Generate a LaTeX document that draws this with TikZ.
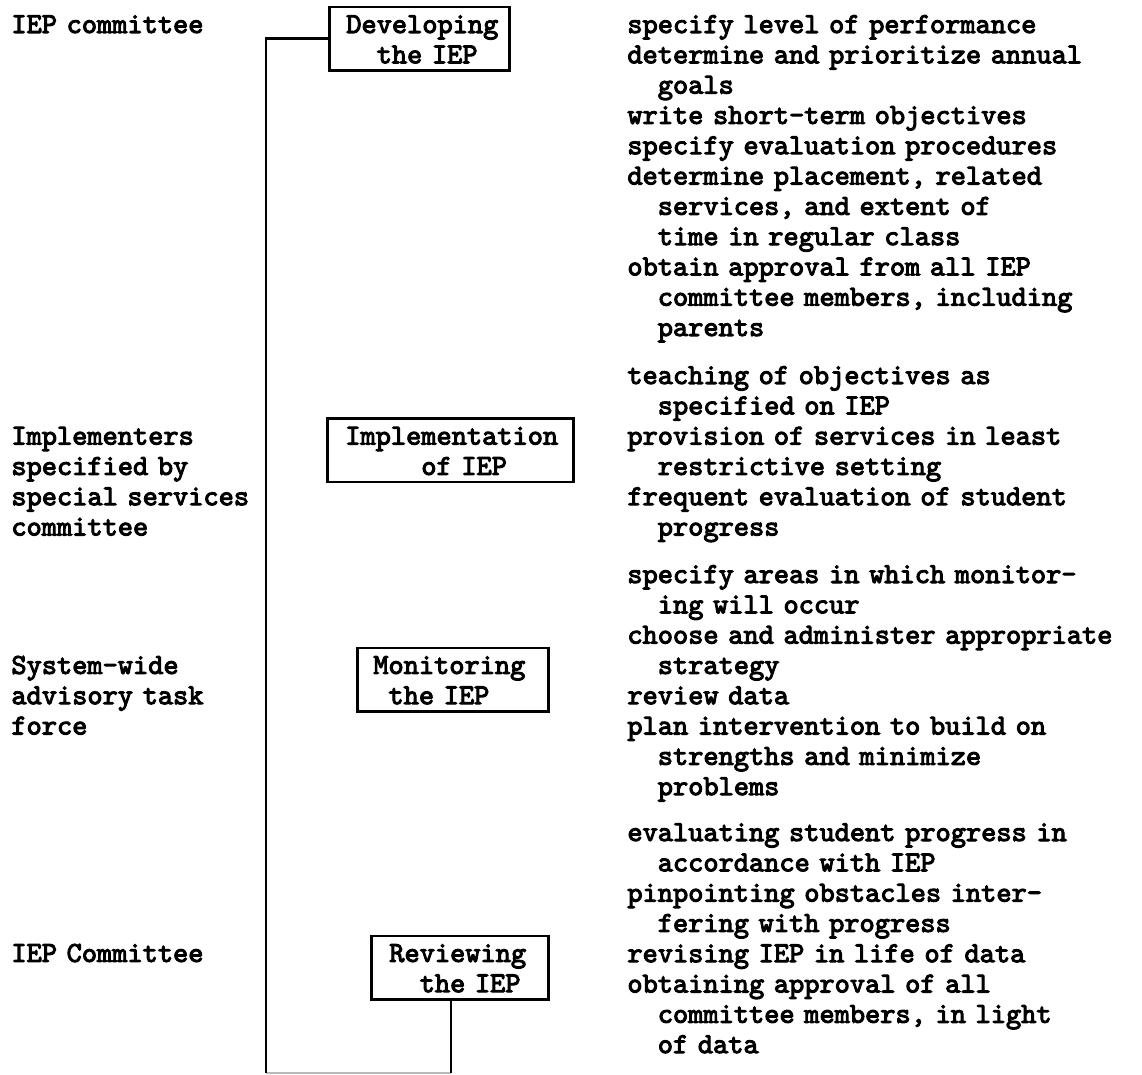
\documentclass[tikz,border=0pt]{standalone}
\usepackage{fontspec}
% heavy typewriter face: Latin Modern Mono, emboldened
\newfontfamily\typefont{lmmono10-regular.otf}[FakeBold=3.5]
\usetikzlibrary{calc}
% two-character hanging indent of the typewritten lists
\newcommand{\ind}{\hspace*{1.05em}}
\begin{document}
\begin{tikzpicture}[x=0.5pt,y=-0.5pt,
  tw/.style={font={\typefont\fontsize{14.48pt}{15.15pt}\selectfont}},
  txt/.style={tw, inner sep=0pt, anchor=base west, text width=270pt, align=left},
  stage/.style={tw, draw, line width=1.3pt, inner ysep=0pt, text height=13pt,
                text depth=18.7pt, anchor=base west, align=left},
  conn/.style={line width=1.3pt},
  faint/.style={line width=1pt, gray!55}]
\useasboundingbox (0,0) rectangle (1142,1075);

% responsible parties
\node[txt] (who1) at (11,33) {IEP committee};
\node[txt] (who2) at (11,444.6) {Implementers\\specified by\\special services\\committee};
\node[txt] (who3) at (11,673.9) {System-wide\\advisory task\\force};
\node[txt] (who4) at (11,961.9) {IEP Committee};

% stages
\node[stage, inner xsep=8.5pt, text width=73pt] (devbox) at (328,33)
  {Developing\\\ind the IEP};
\node[stage, inner xsep=9pt, text width=105pt] (impbox) at (326,444.6)
  {Implementation\\\hspace*{2.625em}of IEP};
\node[stage, inner xsep=8pt, text width=79.5pt] (monbox) at (356,673.9)
  {Monitoring\\\hspace*{0.525em}the IEP};
\node[stage, inner xsep=9pt, text width=70.5pt] (revbox) at (370,961.9)
  {Reviewing\\\ind the IEP};

% tasks of each stage
\node[txt] (devtasks) at (627,33) {specify level of performance\\
determine and prioritize annual\\
\ind goals\\
write short-term objectives\\
specify evaluation procedures\\
determine placement, related\\
\ind services, and extent of\\
\ind time in regular class\\
obtain approval from all IEP\\
\ind committee members, including\\
\ind parents};
\node[txt] (imptasks) at (627,384) {teaching of objectives as\\
\ind specified on IEP\\
provision of services in least\\
\ind restrictive setting\\
frequent evaluation of student\\
\ind progress};
\node[txt] (montasks) at (627,583) {specify areas in which monitor-\\
\ind ing will occur\\
choose and administer appropriate\\
\ind strategy\\
review data\\
plan intervention to build on\\
\ind strengths and minimize\\
\ind problems};
\node[txt] (revtasks) at (627,841) {evaluating student progress in\\
\ind accordance with IEP\\
pinpointing obstacles inter-\\
\ind fering with progress\\
revising IEP in life of data\\
obtaining approval of all\\
\ind committee members, in light\\
\ind of data};

% feedback loop from review back to development
\coordinate (loopbot) at (266,1073);
\coordinate (revfoot) at ($(revbox.south west)!0.452!(revbox.south east)$);
\draw[faint] (loopbot) -- (loopbot -| revfoot);
\draw[conn] (devbox.west) -| (loopbot);
\draw[conn] (revfoot) -- (loopbot -| revfoot);
\end{tikzpicture}
\end{document}
